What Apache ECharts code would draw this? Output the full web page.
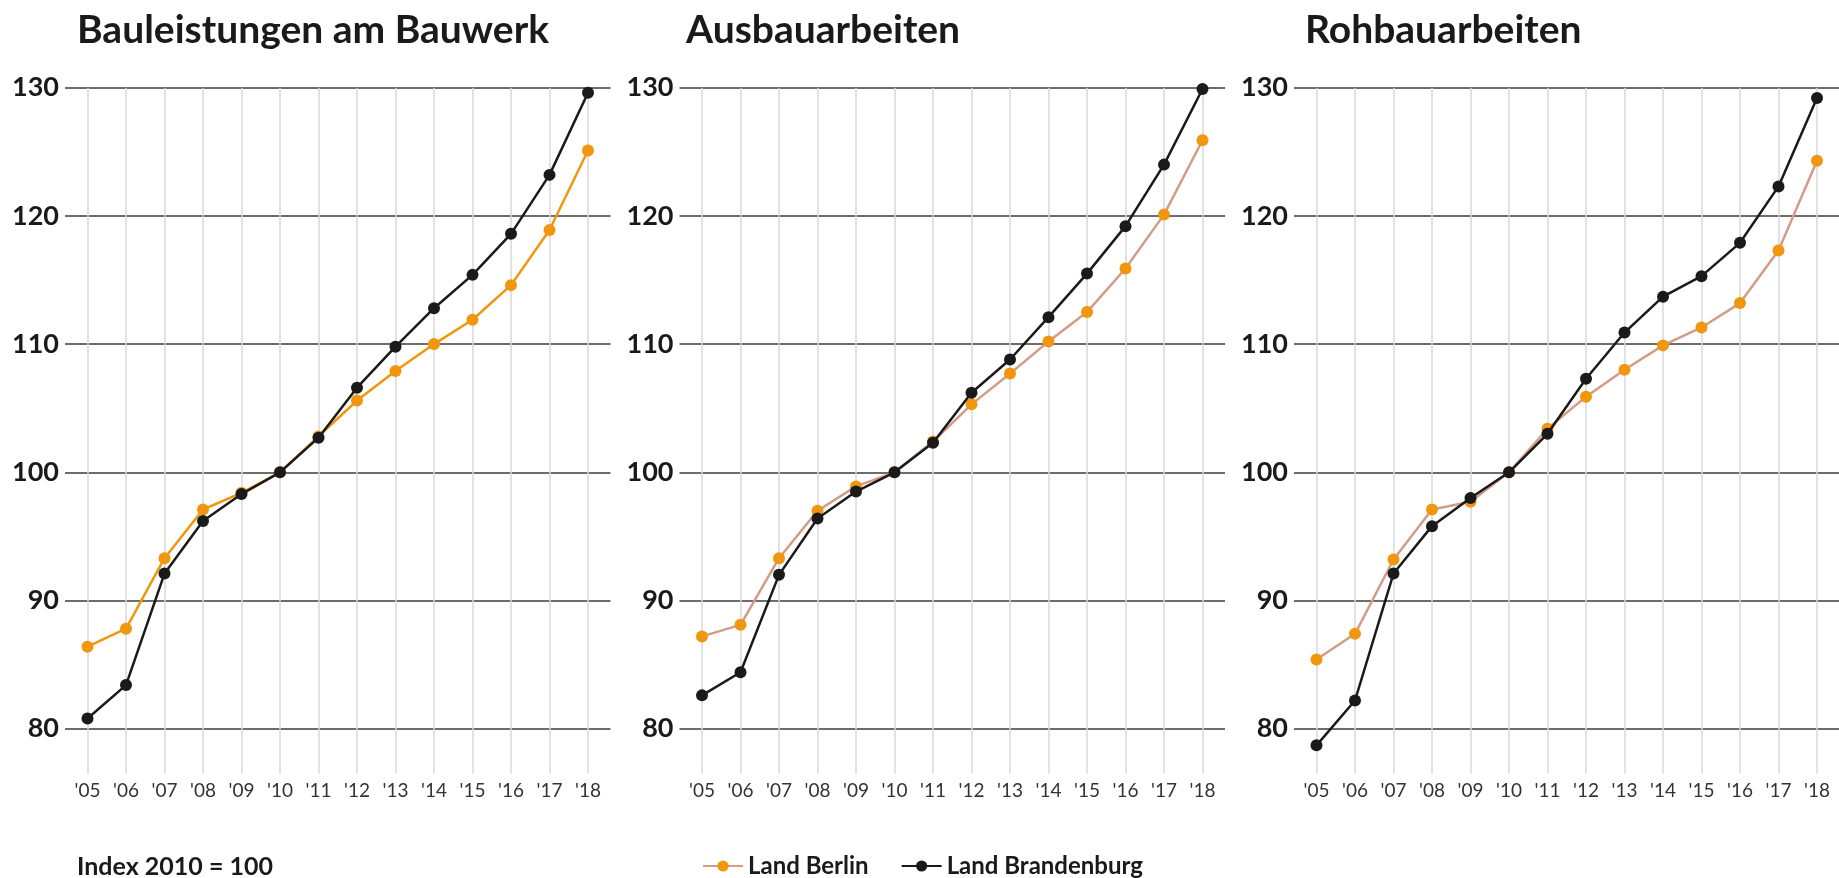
<!DOCTYPE html>
<html>
<head>
<meta charset="utf-8">
<script src="https://cdn.jsdelivr.net/npm/echarts@6/dist/echarts.min.js"></script>
<style>
html,body{margin:0;padding:0;background:#fff;}
#chart{width:1839px;height:878px;}
</style>
</head>
<body>
<div id="chart"></div>
<script>
const years = ["'05","'06","'07","'08","'09","'10","'11","'12","'13","'14","'15","'16","'17","'18"];
const yTicks = [80, 90, 100, 110, 120, 130];
const titles = ["Bauleistungen am Bauwerk", "Ausbauarbeiten", "Rohbauarbeiten"];
const seriesNames = ["Land Berlin", "Land Brandenburg"];
const noteText = "Index 2010 = 100";

const bauBerlin = [86.4, 87.8, 93.3, 97.1, 98.4, 100, 102.8, 105.6, 107.9, 110.0, 111.9, 114.6, 118.9, 125.1];
const bauBrand  = [80.8, 83.4, 92.1, 96.2, 98.3, 100, 102.7, 106.6, 109.8, 112.8, 115.4, 118.6, 123.2, 129.6];
const ausBerlin = [87.2, 88.1, 93.3, 97.0, 98.9, 100, 102.4, 105.3, 107.7, 110.2, 112.5, 115.9, 120.1, 125.9];
const ausBrand  = [82.6, 84.4, 92.0, 96.4, 98.5, 100, 102.3, 106.2, 108.8, 112.1, 115.5, 119.2, 124.0, 129.9];
const rohBerlin = [85.4, 87.4, 93.2, 97.1, 97.7, 100, 103.4, 105.9, 108.0, 109.9, 111.3, 113.2, 117.3, 124.3];
const rohBrand  = [78.7, 82.2, 92.1, 95.8, 98.0, 100, 103.0, 107.3, 110.9, 113.7, 115.3, 117.9, 122.3, 129.2];

const panels = [
  {berlin: bauBerlin, brand: bauBrand, berlinLine: '#f0960f'},
  {berlin: ausBerlin, brand: ausBrand, berlinLine: '#d39c88'},
  {berlin: rohBerlin, brand: rohBrand, berlinLine: '#d39c88'}
];

const FONT = 'Lato';
const W = 1839;
const gridTop = 87.7;
const pxPerUnit = 12.82;
const yMaxV = yTicks[yTicks.length - 1], yMinH = yTicks[0], yMinV = 76.5;
const catSpan = 500.5, pad = 22.5;
const titleX = [77, 686, 1305];

const grids = [], xAxes = [], yAxes = [], series = [], graphics = [];
panels.forEach((p, i) => {
  const cat0 = 87.5 + i * 614.5;
  const hLeft = cat0 - pad;
  const hWidth = Math.min(catSpan + 2 * pad, W - hLeft);
  grids.push({left: hLeft, top: gridTop, width: hWidth, height: (yMaxV - yMinH) * pxPerUnit});
  xAxes.push({type: 'category', gridIndex: 2 * i, data: years, show: false});
  yAxes.push({
    type: 'value', gridIndex: 2 * i, min: yMinH, max: yMaxV, interval: 10,
    axisLine: {show: false}, axisTick: {show: false},
    axisLabel: {margin: 6, fontFamily: FONT, fontWeight: 'bold', fontSize: 27, color: '#1a1a1a'},
    splitLine: {lineStyle: {color: '#3c3c3c', width: 1.5}}
  });
  grids.push({left: cat0, top: gridTop, width: catSpan, height: (yMaxV - yMinV) * pxPerUnit});
  xAxes.push({
    type: 'category', gridIndex: 2 * i + 1, data: years, boundaryGap: false,
    axisLine: {show: false}, axisTick: {show: false},
    axisLabel: {interval: 0, margin: 8, fontFamily: FONT, fontSize: 19, color: '#333'},
    splitLine: {show: true, interval: 0, lineStyle: {color: '#d9d9d9', width: 1.5}}
  });
  yAxes.push({type: 'value', gridIndex: 2 * i + 1, min: yMinV, max: yMaxV, show: false, splitLine: {show: false}});
  graphics.push({
    type: 'text', x: titleX[i], y: 30,
    style: {text: titles[i], font: 'bold 39px ' + FONT, fill: '#1a1a1a', textVerticalAlign: 'middle', verticalAlign: 'middle'}
  });
});

const order = [1, 2, 0];
order.forEach(i => {
  const p = panels[i];
  series.push({
    name: seriesNames[0], type: 'line', xAxisIndex: 2 * i + 1, yAxisIndex: 2 * i + 1,
    data: p.berlin, symbol: 'circle', symbolSize: 12, clip: false, z: 2,
    lineStyle: {color: p.berlinLine, width: 2.5},
    itemStyle: {color: '#f0960f'}
  });
  series.push({
    name: seriesNames[1], type: 'line', xAxisIndex: 2 * i + 1, yAxisIndex: 2 * i + 1,
    data: p.brand, symbol: 'circle', symbolSize: 12, clip: false, z: 3,
    lineStyle: {color: '#1a1a1a', width: 2.5},
    itemStyle: {color: '#1a1a1a'}
  });
});

graphics.push({
  type: 'text', x: 77, y: 867,
  style: {text: noteText, font: 'bold 25px ' + FONT, fill: '#1a1a1a', textVerticalAlign: 'middle', verticalAlign: 'middle'}
});

const chart = echarts.init(document.getElementById('chart'), null, {renderer: 'canvas'});
chart.setOption({
  backgroundColor: '#fff',
  animation: false,
  textStyle: {fontFamily: FONT},
  grid: grids,
  xAxis: xAxes,
  yAxis: yAxes,
  legend: {
    data: seriesNames, left: 702, top: 854, padding: 0, itemWidth: 40, itemHeight: 14, itemGap: 32,
    textStyle: {fontFamily: FONT, fontWeight: 'bold', fontSize: 24, color: '#1a1a1a'}
  },
  graphic: graphics,
  series: series
});
</script>
</body>
</html>
